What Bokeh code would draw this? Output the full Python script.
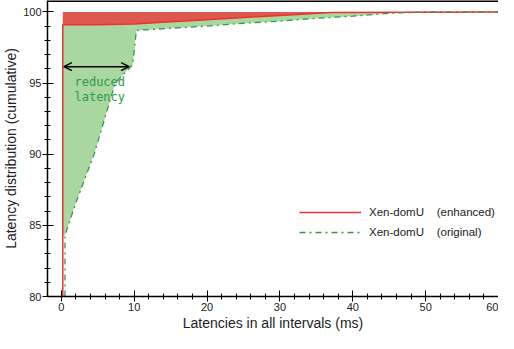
from bokeh.plotting import figure
from bokeh.models import (Range1d, Span, Arrow, OpenHead, Label, Legend, LegendItem,
                          FixedTicker)
from bokeh.embed import file_html
from bokeh.resources import INLINE

# ---- data ----
enh_x = [0.2, 0.2, 5, 10, 15, 20, 25, 30, 37, 60]
enh_y = [80, 99.1, 99.1, 99.15, 99.3, 99.45, 99.6, 99.75, 99.95, 100]

orig_x = [0.5, 0.5, 2, 4.5, 7.4, 9.8, 10.3, 15, 20, 25, 30, 35, 40, 45, 50, 60]
orig_y = [80, 84.3, 86.6, 90, 95, 96.3, 98.7, 98.85, 99.0, 99.2, 99.35, 99.55, 99.7, 99.9, 100, 100]

x_ticks = [0, 10, 20, 30, 40, 50, 60]
x_minor = list(range(0, 61, 2))
y_ticks = [80, 85, 90, 95, 100]
y_minor = list(range(80, 101))
series_labels = ["Xen-domU\u00a0\u00a0\u00a0\u00a0(enhanced)", "Xen-domU\u00a0\u00a0\u00a0\u00a0(original)"]

arrow_y = 96.15
arrow_x0, arrow_x1 = 0.35, 9.3

FONT = "Liberation Sans"
RED_FILL = "#de5850"
RED_LINE = "#ee3030"
GREEN_FILL = "#a8d7a0"
GREEN_LINE = "#2e9a4a"

X0, X1, Y0, Y1 = -1.9, 60, 80, 100.8

p = figure(width=498, height=333, output_backend="svg", toolbar_location=None,
           x_range=Range1d(X0, X1), y_range=Range1d(Y0, Y1))
p.min_border_left = 42
p.min_border_right = 0
p.min_border_top = 0
p.min_border_bottom = 0
p.outline_line_color = None
p.grid.visible = False
p.background_fill_color = "white"

# red fill between enhanced curve and 100
red_px = enh_x[1:] + [enh_x[1]]
red_py = enh_y[1:] + [100]
p.patch(red_px, red_py, fill_color=RED_FILL, line_color=None)

# green fill between enhanced and original curves
end_x = 50
up_x = [enh_x[0]] + [x for x in enh_x[1:] if x < end_x] + [end_x]
up_y = [orig_y[1]] + [y for x, y in zip(enh_x[1:], enh_y[1:]) if x < end_x] + [100]
dn = [(x, y) for x, y in zip(orig_x[1:], orig_y[1:]) if x <= end_x][::-1]
gx = up_x + [d[0] for d in dn]
gy = up_y + [d[1] for d in dn]
p.patch(gx, gy, fill_color=GREEN_FILL, line_color=None)

r_enh = p.line(enh_x, enh_y, line_color=RED_LINE, line_width=1.5)
r_orig = p.line(orig_x, orig_y, line_color=GREEN_LINE, line_width=1.3, line_dash="dashdot")

# frame top and right edges
p.add_layout(Span(location=Y1, dimension="width", line_color="black", line_width=3))
p.add_layout(Span(location=X1, dimension="height", line_color="#e6ded0", line_width=1))

# arrow and annotation
p.add_layout(Arrow(x_start=arrow_x0, y_start=arrow_y, x_end=arrow_x1, y_end=arrow_y,
                   start=OpenHead(size=8, line_width=1.5), end=OpenHead(size=8, line_width=1.5),
                   line_width=1.5, line_color="black"))
p.add_layout(Label(x=1.8, y=95.05, text="reduced", text_font="DejaVu Sans Mono",
                   text_font_size="12px", text_color=GREEN_LINE, text_baseline="middle"))
p.add_layout(Label(x=1.8, y=94.0, text="latency", text_font="DejaVu Sans Mono",
                   text_font_size="12px", text_color=GREEN_LINE, text_baseline="middle"))
p.add_layout(Label(x=X0, y=99.05, x_offset=-36, text="(%)",
                   text_font=FONT, text_font_size="9px", text_color="#222222",
                   text_baseline="middle"))

# axes
for ax in (p.xaxis[0], p.yaxis[0]):
    ax.axis_line_color = "black"
    ax.axis_line_width = 1.5
    ax.major_tick_in = 6
    ax.major_tick_out = 5
    ax.minor_tick_in = 3
    ax.minor_tick_out = 3
    ax.major_tick_line_color = "black"
    ax.major_tick_line_width = 1
    ax.minor_tick_line_color = "black"
    ax.minor_tick_line_width = 1
    ax.major_label_text_font = FONT
    ax.major_label_text_font_size = "11px"
    ax.major_label_text_color = "#222222"
    ax.axis_label_text_font = FONT
    ax.axis_label_text_font_size = "14px"
    ax.axis_label_text_font_style = "normal"
    ax.axis_label_text_color = "#222222"
    ax.major_label_standoff = 1
    ax.axis_label_standoff = 1

p.xaxis[0].ticker = FixedTicker(ticks=x_ticks, minor_ticks=x_minor)
p.yaxis[0].ticker = FixedTicker(ticks=y_ticks, minor_ticks=y_minor)
p.xaxis[0].axis_label = "Latencies in all intervals (ms)"
p.yaxis[0].axis_label = "Latency distribution (cumulative)"

legend = Legend(items=[LegendItem(label=series_labels[0], renderers=[r_enh]),
                       LegendItem(label=series_labels[1], renderers=[r_orig])],
                location=(252, 56), glyph_width=62, glyph_height=16, spacing=4,
                padding=0, margin=0, label_text_font=FONT, label_text_font_size="11.5px",
                label_text_color="#222222", background_fill_alpha=0,
                border_line_color=None, label_standoff=8)
p.add_layout(legend, "center")

open("out.html", "w").write(file_html(p, INLINE))
